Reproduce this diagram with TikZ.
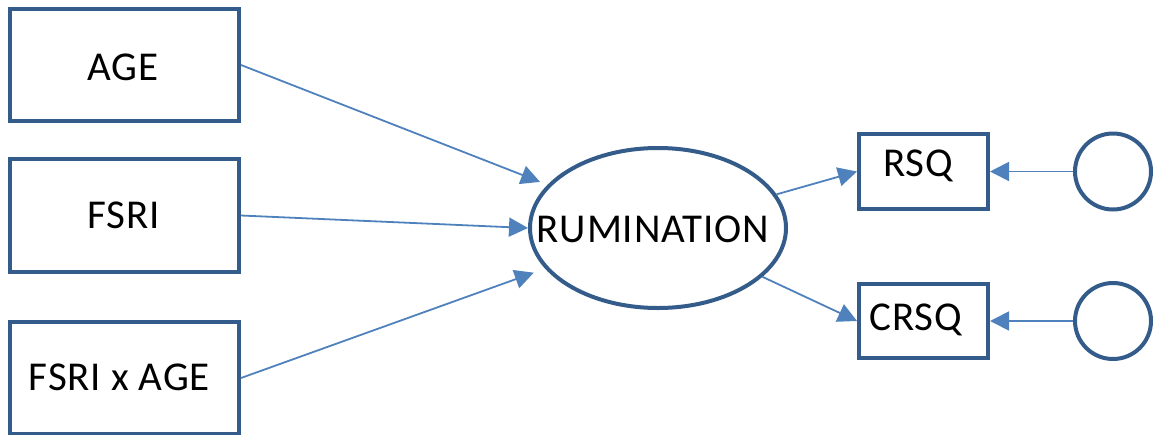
\documentclass[tikz,border=0pt]{standalone}
\usepackage{fontspec}
\setmainfont{Carlito}[LetterSpace=2]
\usetikzlibrary{arrows.meta,shapes.geometric}
\definecolor{outline}{RGB}{52,92,138}
\definecolor{link}{RGB}{79,129,189}
\begin{document}
\begin{tikzpicture}[x=1pt,y=-1pt,
  shapeline/.style={draw=outline,line width=4pt,fill=white,inner sep=0pt},
  varbox/.style={shapeline,rectangle},
  latent/.style={shapeline,ellipse,minimum width=256pt,minimum height=160pt},
  errcirc/.style={shapeline,circle,minimum size=76pt},
  lbl/.style={inner sep=0pt,text height=26.4pt,text depth=0pt,
    font=\fontsize{41}{48}\selectfont,text=black},
  regpath/.style={draw=link,line width=1.8pt,
    -{Triangle[length=19pt,width=19pt]}}
]
\useasboundingbox (0,0) rectangle (1155,434);

% observed predictors
\node[varbox,minimum width=229pt,minimum height=112pt] (age)  at (124.5,65)  {};
\node[varbox,minimum width=229pt,minimum height=113pt] (fsri) at (124.5,215.5) {};
\node[varbox,minimum width=229pt,minimum height=112pt] (inter) at (124.5,378) {};
\node[lbl] (agetxt)   at (123,67.5)  {AGE};
\node[lbl] (fsritxt)  at (124,215)   {FSRI};
\node[lbl] (intertxt) at (119.5,377) {FSRI x AGE};

% latent factor
\node[latent] (rum) at (658,228) {};
\node[lbl] (rumtxt) at (653,229.5) {RUMINATION};

% indicators
\node[varbox,minimum width=129pt,minimum height=75pt] (rsq)  at (923.5,171.5) {};
\node[varbox,minimum width=129pt,minimum height=74pt] (crsq) at (923.5,321)   {};
\node[lbl] (rsqtxt)  at (918,163.5) {RSQ};
\node[lbl] (crsqtxt) at (916,317.5) {CRSQ};

% error terms
\node[errcirc] (e1) at (1113,171.5) {};
\node[errcirc] (e2) at (1113,321)   {};

% paths
\draw[regpath,shorten >=8pt]  (age.east)  -- (rum);
\draw[regpath]                (fsri.east) -- (rum.west);
\draw[regpath,shorten >=12pt] (inter.east) -- (rum);
\draw[regpath] (rum) -- (rsq.west);
\draw[regpath] (rum) -- (crsq.west);
\draw[regpath] (e1) -- (rsq);
\draw[regpath] (e2) -- (crsq);
\end{tikzpicture}
\end{document}
